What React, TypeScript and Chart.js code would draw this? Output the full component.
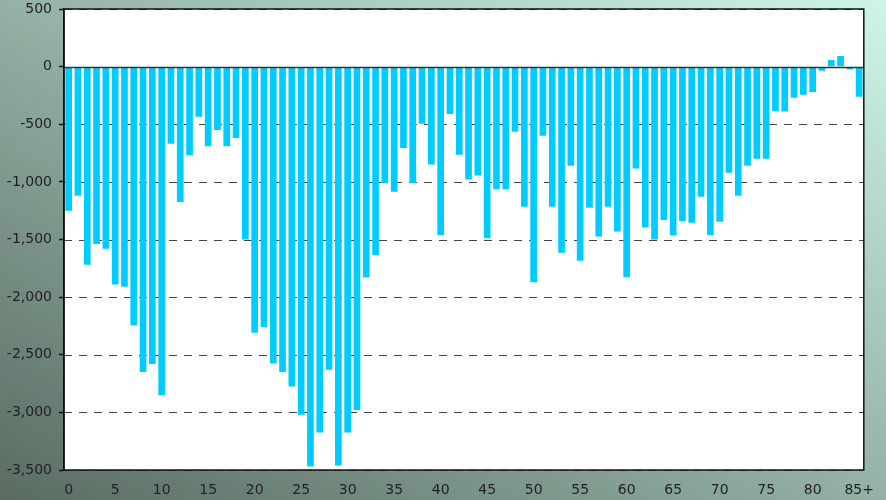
import React, { useEffect, useRef, useState } from "react";
import { Chart, registerables } from "chart.js";

const categories: string[] = Array.from({ length: 86 }, (_, i) => (i === 85 ? "85+" : String(i)));

const values: number[] = [
  -1250, -1120, -1720, -1540, -1580, -1890, -1910, -2245, -2650, -2580,
  -2850, -670, -1175, -770, -435, -690, -550, -690, -620, -1500,
  -2310, -2260, -2575, -2650, -2775, -3020, -3470, -3175, -2630, -3460,
  -3175, -2980, -1830, -1635, -1010, -1085, -705, -1010, -495, -850,
  -1460, -410, -765, -980, -945, -1490, -1065, -1065, -565, -1215,
  -1870, -600, -1215, -1615, -860, -1685, -1225, -1475, -1215, -1430,
  -1825, -885, -1395, -1500, -1330, -1465, -1340, -1355, -1130, -1460,
  -1345, -920, -1120, -860, -800, -800, -385, -390, -270, -245,
  -220, -35, 58, 93, -25, -262,
];

const yMin = -3500;
const yMax = 500;
const yStep = 500;
const xLabelEvery = 5;

function plotRect(chart: any) {
  const x = chart.scales.x;
  const y = chart.scales.y;
  const left = Number(x.left);
  const right = Number(x.right);
  const top = Number(y.top);
  const bottom = Number(y.bottom);
  return { left, right, top, bottom, w: right - left, h: bottom - top };
}

const plotPlugin = {
  id: "plotDecor",
  beforeDatasetsDraw(chart: any) {
    const { ctx, scales } = chart;
    const y = scales.y;
    const r = plotRect(chart);
    ctx.save();
    ctx.strokeStyle = "#444444";
    ctx.lineWidth = 1;
    ctx.setLineDash([8, 7]);
    y.ticks.forEach((t: any) => {
      if (t.value === 0) return;
      const py = Math.round(y.getPixelForValue(t.value)) + 0.5;
      ctx.beginPath();
      ctx.moveTo(r.left, py);
      ctx.lineTo(r.right, py);
      ctx.stroke();
    });
    ctx.restore();
  },
  afterDatasetsDraw(chart: any) {
    const { ctx, scales } = chart;
    const y = scales.y;
    const r = plotRect(chart);
    ctx.save();
    ctx.globalCompositeOperation = "destination-over";
    ctx.fillStyle = "#ffffff";
    ctx.fillRect(r.left, r.top, r.w, r.h);
    ctx.globalCompositeOperation = "source-over";
    const z = Math.round(y.getPixelForValue(0)) + 0.5;
    ctx.strokeStyle = "#333333";
    ctx.lineWidth = 1.5;
    ctx.beginPath();
    ctx.moveTo(r.left, z);
    ctx.lineTo(r.right, z);
    ctx.stroke();
    ctx.strokeStyle = "#111111";
    ctx.lineWidth = 1.5;
    ctx.strokeRect(r.left, r.top, r.w, r.h);
    ctx.restore();
  },
};

Chart.register(...registerables, plotPlugin);

export default function App() {
  const canvasRef = useRef<HTMLCanvasElement | null>(null);
  const [area, setArea] = useState<{ left: number; top: number; w: number; h: number } | null>(null);

  useEffect(() => {
    if (!canvasRef.current) return;
    const chart = new Chart(canvasRef.current, {
      type: "bar",
      data: {
        labels: categories,
        datasets: [
          {
            data: values,
            backgroundColor: "#00CCFF",
            borderWidth: 0,
            barPercentage: 0.9,
            categoryPercentage: 0.8,
          },
        ],
      },
      options: {
        animation: false,
        responsive: false,
        layout: { padding: { top: 0, right: 13, left: 0, bottom: 0 } },
        plugins: {
          legend: { display: false },
          tooltip: { enabled: false },
        },
        scales: {
          x: {
            grid: { display: false, drawTicks: false },
            border: { display: false },
            ticks: {
              autoSkip: false,
              maxRotation: 0,
              padding: 12,
              color: "#222222",
              font: { family: "'DejaVu Sans'", size: 14 },
              callback: (_v: any, i: number) => (i % xLabelEvery === 0 ? categories[i] : ""),
            },
            afterFit: (s: any) => {
              s.height = 30;
            },
          },
          y: {
            min: yMin,
            max: yMax,
            grid: {
              drawOnChartArea: false,
              drawTicks: true,
              tickLength: 5,
              tickColor: "#111111",
              tickWidth: 1.5,
            },
            border: { display: true, color: "#111111", width: 1.5 },
            ticks: {
              stepSize: yStep,
              padding: 7,
              color: "#222222",
              font: { family: "'DejaVu Sans'", size: 14 },
            },
            afterFit: (s: any) => {
              s.width = 64;
              s.paddingTop = 9;
              s.paddingBottom = 0;
            },
          },
        },
      },
    });
    const r = plotRect(chart);
    setArea({ left: r.left, top: r.top, w: r.w, h: r.h });
    return () => chart.destroy();
  }, []);

  return (
    <div
      style={{
        position: "fixed",
        left: 0,
        top: 0,
        width: 886,
        height: 500,
        background: "linear-gradient(to top right, #5a6c62, #cdf6e6)",
      }}
    >
      {area && (
        <div
          style={{
            position: "absolute",
            left: area.left,
            top: area.top,
            width: area.w,
            height: area.h,
            background: "#ffffff",
          }}
        />
      )}
      <canvas
        ref={canvasRef}
        width={886}
        height={500}
        style={{ position: "absolute", left: 0, top: 0, display: "block", width: 886, height: 500 }}
      />
    </div>
  );
}
